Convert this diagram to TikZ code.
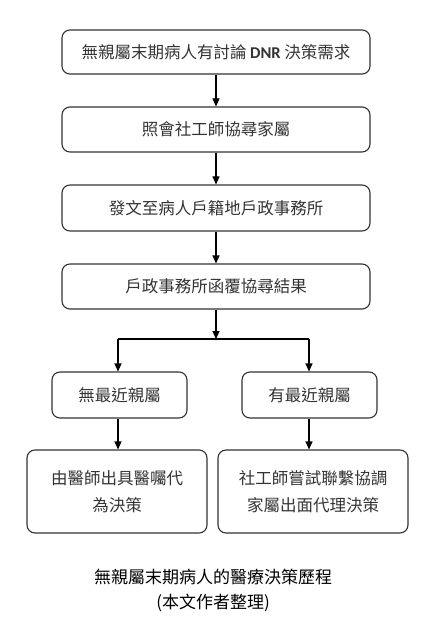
\documentclass[tikz,border=0pt]{standalone}
\usepackage{fontspec}
\setmainfont{Noto Sans CJK TC}
\newfontfamily\latinfont{Carlito}
\usetikzlibrary{arrows.meta}
\begin{document}
\begin{tikzpicture}[x=1pt,y=-1pt,
  flowbox/.style={draw=black!80, line width=1.1pt, rounded corners=8pt, inner sep=0pt, align=center, text=black!80, font=\fontsize{16.5}{27}\selectfont},
  flowarrow/.style={draw=black, line width=1.1pt, -{Triangle[length=8pt,width=7pt]}}]
\useasboundingbox (0,0) rectangle (430,628);
\node[flowbox, minimum width=308pt, minimum height=44pt] (b1) at (216,52) {無親屬末期病人有討論 {\latinfont\bfseries DNR} 決策需求};
\node[flowbox, minimum width=308pt, minimum height=45pt] (b2) at (216,129.5) {照會社工師協尋家屬};
\node[flowbox, minimum width=308pt, minimum height=46pt] (b3) at (216,208) {發文至病人戶籍地戶政事務所};
\node[flowbox, minimum width=308pt, minimum height=45pt] (b4) at (216,286.5) {戶政事務所函覆協尋結果};
\coordinate (split) at (216,339);
\coordinate (sl) at (118,339);
\coordinate (sr) at (309,339);
\node[flowbox, minimum width=135pt, minimum height=46pt] (b5) at (119.5,395) {無最近親屬};
\node[flowbox, minimum width=135pt, minimum height=46pt] (b6) at (309.5,395) {有最近親屬};
\node[flowbox, minimum width=180pt, minimum height=83pt] (b7) at (117,491.5) {由醫師出具醫囑代\\為決策};
\node[flowbox, minimum width=190pt, minimum height=83pt] (b8) at (313,491.5) {社工師嘗試聯繫協調\\家屬出面代理決策};
\draw[flowarrow] (b1) -- (b2);
\draw[flowarrow] (b2) -- (b3);
\draw[flowarrow] (b3) -- (b4);
\draw[flowarrow] (b4) -- (split);
\draw[line width=1.1pt] (sl) -- (sr);
\draw[flowarrow] (sl) -- (sl |- b5.north);
\draw[flowarrow] (sr) -- (sr |- b6.north);
\draw[flowarrow] (b5.south -| sl) -- (sl |- b7.north);
\draw[flowarrow] (b6.south -| sr) -- (sr |- b8.north);
\node[font=\fontsize{17}{25}\selectfont, align=center, inner sep=0pt] (cap) at (213,590.5) {無親屬末期病人的醫療決策歷程\\(本文作者整理)};
\end{tikzpicture}
\end{document}
